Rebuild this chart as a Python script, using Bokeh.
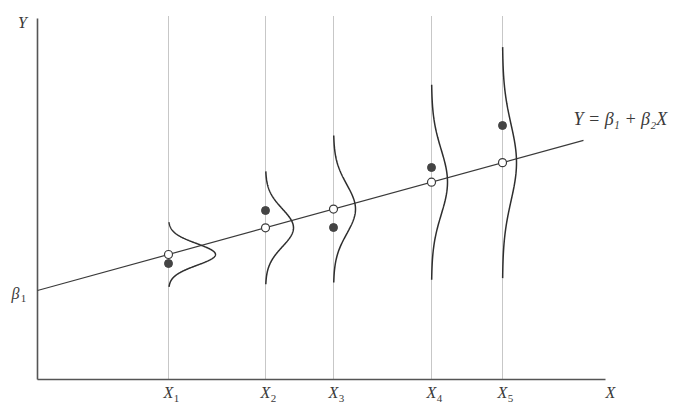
import numpy as np
from bokeh.plotting import figure
from bokeh.embed import file_html
from bokeh.resources import INLINE
from bokeh.core.properties import value

# ---- data ----
x_names = ["X", "X", "X", "X", "X"]
x_subs = ["1", "2", "3", "4", "5"]
x_vals = [13.1, 22.8, 29.6, 39.4, 46.5]
beta1 = 8.9
beta2 = 0.275
y_obs = [11.6, 16.9, 15.2, 21.2, 25.4]
sigmas = [1.08, 1.88, 2.45, 3.25, 3.85]
peak_widths = [4.7, 2.8, 2.2, 1.6, 1.4]
line_x_end = 54.6
x_axis_end = 56.8
y_axis_end = 36.1
guide_top = 36.4

FONT = value("Liberation Serif")
INK = "#3a3a3a"

p = figure(width=673, height=405, x_range=(-3.7, 63.6), y_range=(-2.6, 37.9),
           output_backend="svg", toolbar_location=None, min_border=0)
p.axis.visible = False
p.grid.visible = False
p.outline_line_color = None
p.background_fill_color = "white"
p.border_fill_color = "white"

# vertical dotted guides
for xv in x_vals:
    p.line([xv, xv], [0, guide_top], line_color="#8f8f8f", line_width=1, line_dash="1 1")

# axes
p.line([0, 0], [0, y_axis_end], line_color="#555555", line_width=1.6)
p.line([0, x_axis_end], [0, 0], line_color="#555555", line_width=1.6)

# regression line
p.line([0, line_x_end], [beta1, beta1 + beta2 * line_x_end], line_color=INK, line_width=1.2)

# normal density curves, drawn to the right of each guide
for xv, s, w in zip(x_vals, sigmas, peak_widths):
    mu = beta1 + beta2 * xv
    yy = np.linspace(mu - 3 * s, mu + 3 * s, 200)
    xx = xv + w * np.exp(-0.5 * ((yy - mu) / s) ** 2)
    p.line(xx, yy, line_color="#2e2e2e", line_width=1.5)

# observed points and expected values
y_mean = [beta1 + beta2 * xv for xv in x_vals]
p.scatter(x_vals, y_obs, size=8, fill_color="#444444", line_color="#444444")
p.scatter(x_vals, y_mean, size=8, fill_color="white", line_color=INK, line_width=1.2)

# labels
common = dict(text_font=FONT, text_align="center", text_baseline="middle", text_color=INK)
p.text(x_vals, [-1.3] * 5, text=x_names, text_font_size="16px",
       text_font_style="italic", **common)
p.text(x_vals, [-1.3] * 5, text=x_subs, text_font_size="11px",
       x_offset=8, y_offset=6, **common)
p.text([57.3], [-1.3], text=["X"], text_font_size="16px", text_font_style="italic", **common)
p.text([-1.5], [35.7], text=["Y"], text_font_size="16px", text_font_style="italic", **common)
p.text([-2.2], [8.6], text=["\u03b2"], text_font_size="16px", text_font_style="italic", **common)
p.text([-2.2], [8.6], text=["1"], text_font_size="11px", x_offset=8, y_offset=5, **common)
p.text([53.6], [26.1], text=["Y = \u03b2\u2081 + \u03b2\u2082X"], text_font=FONT,
       text_font_style="italic", text_font_size="18px", text_align="left",
       text_baseline="middle", text_color=INK)

open("out.html", "w").write(file_html(p, INLINE))
